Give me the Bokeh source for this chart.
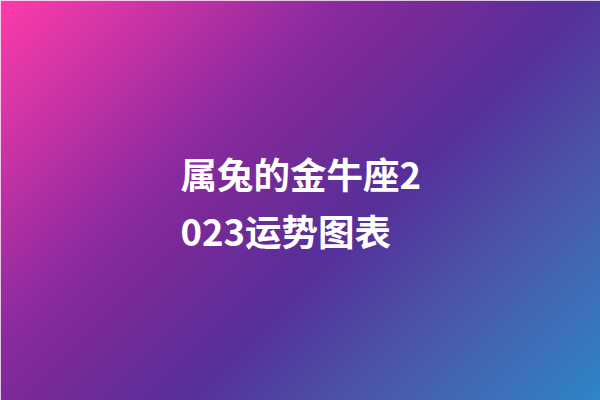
import numpy as np
from bokeh.plotting import figure
from bokeh.models import Range1d
from bokeh.core.properties import value
from bokeh.embed import file_html
from bokeh.resources import INLINE

# title text, split over two lines as in the picture
lines = ["属兔的金牛座2", "023运势图表"]
line_x = [180, 180]
line_y = [173, 230]

# background gradient stops (position along the diagonal, colour)
stop_pos = [0.0, 0.34, 0.42, 0.58, 0.77, 1.0]
stop_col = ["#ff3caa", "#8c2aa0", "#7a2a98", "#56309a", "#4a5aaa", "#2e86c8"]

W, H = 600, 400


def hex_rgb(h):
    return [int(h[i:i + 2], 16) for i in (1, 3, 5)]


# build the gradient image for the full card
gx, gy = np.meshgrid(np.arange(W), np.arange(H))
t = 0.6 * gx / W + 0.4 * gy / H
rgb = np.array([hex_rgb(c) for c in stop_col])
img = np.empty((H, W), dtype=np.uint32)
view = img.view(dtype=np.uint8).reshape((H, W, 4))
for ch in range(3):
    view[:, :, ch] = np.interp(t, stop_pos, rgb[:, ch]).astype(np.uint8)
view[:, :, 3] = 255

p = figure(width=W, height=H, output_backend="svg", toolbar_location=None,
           x_range=Range1d(0, W), y_range=Range1d(H, 0), min_border=0)
p.axis.visible = False
p.grid.visible = False
p.outline_line_color = None

p.image_rgba(image=[img], x=0, y=0, dw=W, dh=H)

p.text(x=line_x, y=line_y, text=lines, text_color="white",
       text_font=value("Noto Sans CJK SC"), text_font_style="bold",
       text_font_size="36.5px", text_align="left", text_baseline="middle")

open("out.html", "w").write(file_html(p, INLINE))
